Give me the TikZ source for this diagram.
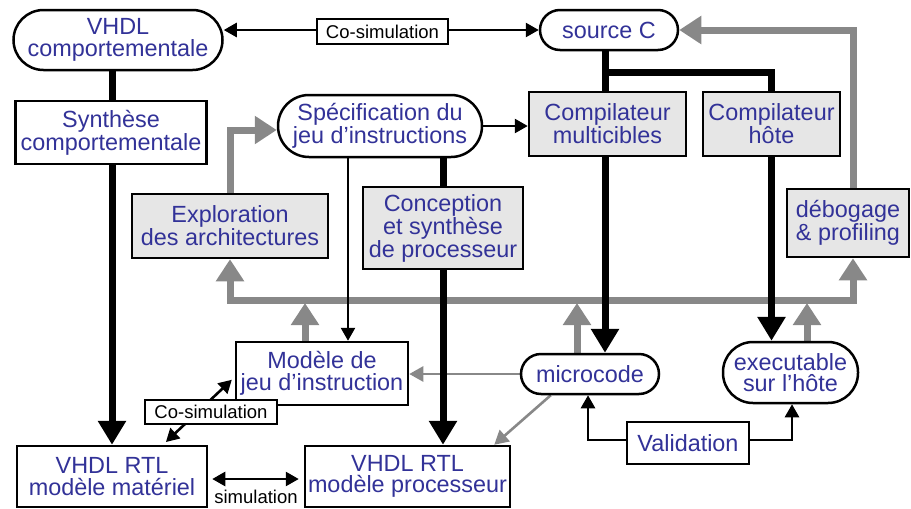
\documentclass[tikz,border=0pt]{standalone}
\usepackage{fontspec}
\setmainfont{Liberation Sans}
\usetikzlibrary{arrows.meta,calc}
\definecolor{txtblue}{RGB}{50,50,152}
\definecolor{boxgray}{RGB}{230,230,230}
\definecolor{flowgray}{RGB}{136,136,136}
\pgfdeclarelayer{bg}
\pgfsetlayers{bg,main}
\tikzset{
  base/.style={draw, line width=2.5pt, align=center, inner sep=0pt, text=txtblue,
               font=\fontsize{23.4}{21.6}\selectfont},
  pill/.style={base, fill=white, rounded corners=#1},
  wbox/.style={base, fill=white},
  gbox/.style={base, fill=boxgray},
  tag/.style={draw, line width=2pt, fill=white, inner sep=0pt,
              font=\fontsize{18.5}{20}\selectfont},
  heavyline/.style={line width=7pt},
  heavy/.style={heavyline, -{Triangle[length=24pt,width=27pt]}},
  gheavy/.style={line width=7pt, flowgray, -{Triangle[length=22pt,width=27pt]}},
  thinarrow/.style={line width=2.6pt, -{Triangle[length=13pt,width=14pt]}},
  thinboth/.style={line width=2.6pt, {Triangle[length=13pt,width=14pt]}-{Triangle[length=13pt,width=14pt]}},
  gthin/.style={line width=2.6pt, flowgray, -{Triangle[length=14pt,width=15pt]}},
}
\begin{document}
\begin{tikzpicture}[x=1pt,y=-1pt]
\useasboundingbox (0,0) rectangle (911,509);

% ---- nodes ----
\node[pill=30pt, minimum width=209pt, minimum height=60pt] (vcomp) at (118,40) {VHDL\\comportementale};
\node[pill=20pt, minimum width=138pt, minimum height=40pt] (srcC) at (609,30) {source C};
\node[tag, minimum width=131pt, minimum height=25pt] (cosimA) at (382.5,31.5) {Co-simulation};
\node[wbox, minimum width=191pt, minimum height=63pt] (synth) at (111,132.5) {Synthèse\\comportementale};
\node[pill=31pt, minimum width=204pt, minimum height=62pt] (spec) at (380,126) {Spécification du\\jeu d’instructions};
\node[gbox, minimum width=157pt, minimum height=64pt] (cmulti) at (607.5,124) {Compilateur\\multicibles};
\node[gbox, minimum width=137pt, minimum height=64pt] (chote) at (771.5,124) {Compilateur\\hôte};
\node[gbox, minimum width=196pt, minimum height=64pt] (explo) at (230,226) {Exploration\\des architectures};
\node[gbox, minimum width=160pt, minimum height=82pt] (concep) at (443,228) {Conception\\et synthèse\\de processeur};
\node[gbox, minimum width=122pt, minimum height=68pt] (debog) at (848,223) {débogage\\\& profiling};
\node[wbox, minimum width=172pt, minimum height=63pt] (modele) at (322,373.5) {Modèle de\\jeu d’instruction};
\node[pill=20pt, minimum width=138pt, minimum height=40pt] (micro) at (590,374) {microcode};
\node[pill=30pt, minimum width=135pt, minimum height=61pt] (exe) at (790.5,372.5) {executable\\sur l’hôte};
\node[wbox, minimum width=122pt, minimum height=42pt] (valid) at (688,443) {Validation};
\node[tag, minimum width=132pt, minimum height=24pt] (cosimB) at (211,412) {Co-simulation};
\node[wbox, minimum width=190pt, minimum height=61pt] (rtlmat) at (112,476.5) {VHDL RTL\\modèle matériel};
\node[wbox, minimum width=205pt, minimum height=61pt] (rtlproc) at (407.5,476.5) {VHDL RTL\\modèle processeur};
\node[inner sep=0pt, font=\fontsize{18.5}{20}\selectfont] (simlbl) at (256,497) {simulation};

% ---- reference points for columns and bus ----
\coordinate (xL) at (112,0);
\coordinate (xC) at (605,0);
\coordinate (xS) at (348,0);
\coordinate (jn) at (605,72);
\coordinate (busL) at (230,300);
\coordinate (tapM) at (305,303);
\coordinate (tapU) at (577,303);
\coordinate (tapE) at (807,303);

\begin{pgfonlayer}{bg}
  % feedback flows (gray)
  \draw[gheavy] (explo.north) |- ([yshift=-4pt]spec.west);
  \draw[gheavy] ([xshift=5pt]debog.north) |- (srcC.east);
  \draw[line width=7pt, flowgray, {Triangle[length=22pt,width=27pt]}-{Triangle[length=22pt,width=27pt]}]
    (explo.south) -- (explo.south |- busL) -| ([xshift=5pt]debog.south);
  \draw[gheavy] (tapM |- modele.north) -- (tapM);
  \draw[gheavy] (tapU |- micro.north) -- (tapU);
  \draw[gheavy] (tapE |- exe.north) -- (tapE);
  \draw[gthin] (micro.west) -- (micro.west -| modele.east);
  \draw[gthin] ([xshift=31pt]micro.south west) -- ([xshift=-17pt]rtlproc.north east);

  % design flows (black)
  \draw[thinboth] ([yshift=10pt]vcomp.east) -- (srcC.west);
  \draw[heavy] (xL |- vcomp.south) -- (xL |- rtlmat.north);
  \draw[heavyline] (xC |- srcC.south) -- (xC |- cmulti.north);
  \draw[heavyline] (jn) -| (chote.north);
  \draw[heavy] (xC |- cmulti.south) -- (xC |- micro.north);
  \draw[heavy] (chote.south) -- (chote.south |- exe.north);
  \draw[heavyline] (concep.north |- spec.south) -- (concep.north);
  \draw[heavy] (concep.south) -- (concep.south |- rtlproc.north);
  \draw[thinarrow] (xS |- spec.south) -- (xS |- modele.north);
  \draw[thinarrow] (spec.east) -- (spec.east -| cmulti.west);
  \draw[thinarrow] ([yshift=3pt]valid.west) -| ([xshift=-2pt]micro.south);
  \draw[thinarrow] ([yshift=3pt]valid.east) -| ([xshift=1.5pt]exe.south);
  \draw[thinboth, shorten <=4pt, shorten >=5pt] ([yshift=-2.5pt]rtlmat.east) -- ([yshift=-2.5pt]rtlproc.west);
  \draw[thinboth, shorten <=4pt, shorten >=4pt] ([xshift=51pt]rtlmat.north) -- ([yshift=-3.5pt]modele.west);
\end{pgfonlayer}
\end{tikzpicture}
\end{document}
